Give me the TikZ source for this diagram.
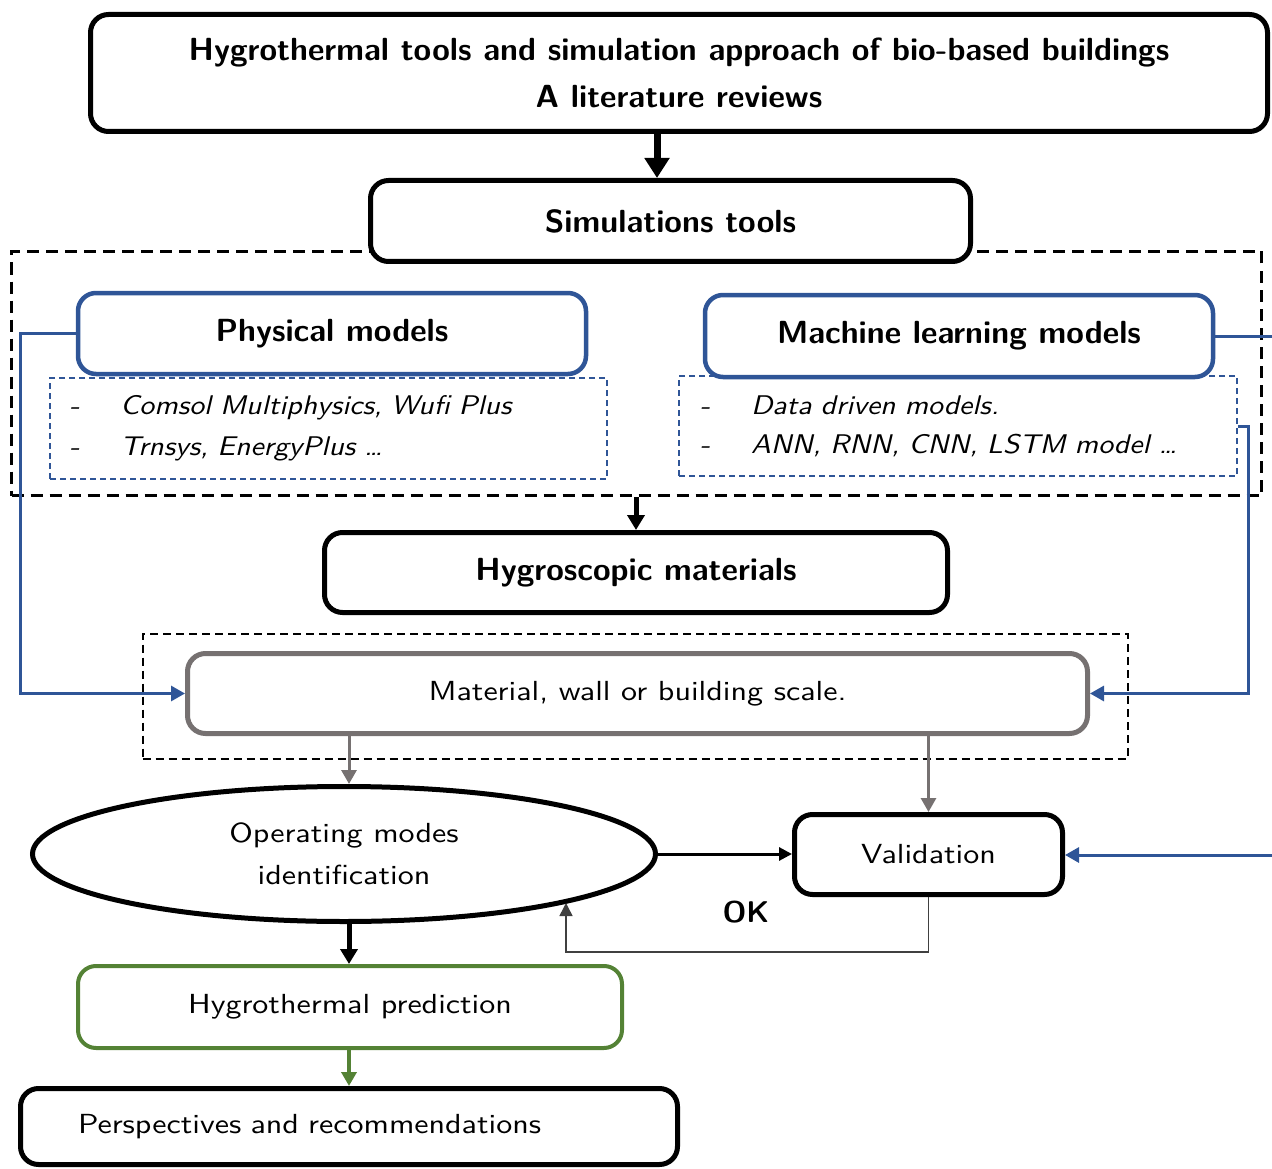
\documentclass[tikz,border=0pt]{standalone}
\usepackage{fontspec}
\usetikzlibrary{shapes.geometric,arrows.meta}
\newfontfamily\regsans[FakeStretch=1.16]{lmsans10-regular.otf}
\newfontfamily\obsans[FakeStretch=1.1]{lmsans10-oblique.otf}
\definecolor{myblue}{HTML}{2F5597}
\definecolor{mygray}{HTML}{767171}
\definecolor{mygreen}{HTML}{548235}
\definecolor{okgray}{HTML}{404040}
\tikzset{
  bx/.style={draw, line width=5pt, rounded corners=18pt, fill=white, align=center, inner sep=0pt,
     font=\sffamily\bfseries\fontsize{32}{47}\selectfont},
  bluebox/.style={bx, draw=myblue, line width=4.5pt},
  itembox/.style={draw=myblue, dashed, line width=1.5pt, dash pattern=on 6pt off 4pt, inner sep=0pt, align=left,
     font=\obsans\fontsize{27}{41}\selectfont},
  regbox/.style={draw, line width=5pt, rounded corners=18pt, fill=white, align=center, inner sep=0pt,
     font=\regsans\fontsize{27.6}{42}\selectfont},
  frame/.style={draw, line width=3pt, dash pattern=on 12pt off 7pt, inner sep=0pt},
  thinframe/.style={draw, line width=2pt, dash pattern=on 8pt off 5pt, inner sep=0pt},
  bigarrow/.style={line width=7pt, -{Triangle[width=24pt,length=20pt]}},
  midarrow/.style={line width=5pt, -{Triangle[width=17pt,length=15pt]}},
  grayarrow/.style={draw=mygray, line width=3pt, -{Triangle[width=15pt,length=14pt]}},
  bluearrow/.style={draw=myblue, line width=3pt, -{Triangle[width=15pt,length=14pt]}},
  blueline/.style={draw=myblue, line width=3pt},
  blackarrow/.style={line width=3pt, -{Triangle[width=13pt,length=13pt]}},
  okarrow/.style={draw=okgray, line width=1.5pt, -{Triangle[width=13pt,length=13pt]}},
  greenarrow/.style={draw=mygreen, line width=4pt, -{Triangle[width=15pt,length=14pt]}}
}
\newcommand{\itm}[1]{\makebox[51pt][l]{-}#1}
\begin{document}
\begin{tikzpicture}[x=1pt,y=-1pt]
\useasboundingbox (0,0) rectangle (1272,1169);

% frames
\node[frame, minimum width=1250pt, minimum height=244pt] (simframe) at (636.5,373.5) {};
\node[thinframe, minimum width=985pt, minimum height=125pt] (matframe) at (635,696) {};

% boxes
\node[bx, minimum width=1177pt, minimum height=117pt] (title) at (679,73)
  {Hygrothermal tools and simulation approach of bio-based buildings\\A literature reviews};
\node[bx, minimum width=600pt, minimum height=81pt] (sim) at (670.5,221) {Simulations tools};
\node[bluebox, minimum width=508pt, minimum height=81pt] (phys) at (332,333.5) {Physical models};
\node[bluebox, minimum width=508pt, minimum height=82pt] (ml) at (959,336) {Machine learning models};
\node[itembox, minimum width=557pt, minimum height=101pt, text width=532pt] (physdash) at (328.5,428.5)
  {\hspace*{7pt}\itm{Comsol Multiphysics, Wufi Plus}\\\hspace*{7pt}\itm{Trnsys, EnergyPlus \dots}};
\node[itembox, minimum width=558pt, minimum height=100pt, text width=532pt, font=\obsans\fontsize{27}{39}\selectfont] (mldash) at (958,426)
  {\hspace*{8pt}\itm{Data driven models.}\\\hspace*{8pt}\itm{ANN, RNN, CNN, LSTM model \dots}};
\node[bx, minimum width=623pt, minimum height=80pt] (hygro) at (636,572.5) {Hygroscopic materials};
\node[regbox, draw=mygray, minimum width=900pt, minimum height=80pt] (mat) at (637.5,693.5) {Material, wall or building scale.};
\node[ellipse, draw, line width=5pt, fill=white, inner sep=0pt, align=center, minimum width=623pt, minimum height=135pt,
  font=\regsans\fontsize{27.6}{42}\selectfont] (ell) at (344,854) {Operating modes\\identification};
\node[regbox, minimum width=268pt, minimum height=80pt] (val) at (928.5,854.5) {Validation};
\node[regbox, draw=mygreen, line width=4pt, minimum width=544pt, minimum height=82pt] (pred) at (350,1007) {Hygrothermal prediction};
\node[regbox, minimum width=657pt, minimum height=76pt, text width=542pt, align=left] (persp) at (349,1126.5) {Perspectives and recommendations};
\node[font=\sffamily\bfseries\fontsize{30}{34}\selectfont, inner sep=0pt] (ok) at (746,912) {OK};

% helper coordinates
\coordinate (a1) at (657,0);
\coordinate (ga) at (349,0);
\coordinate (lx) at (20,0);
\coordinate (rx) at (1248,0);
\coordinate (edge) at (1272,0);
\coordinate (redge2) at (1272,855);
\coordinate (okc) at (566,952);
\coordinate (okend) at (566,903);

% connectors
\draw[bigarrow] (title.south -| a1) -- (sim.north -| a1);
\draw[midarrow] (simframe.south -| hygro.north) -- (hygro.north);
\draw[grayarrow] (mat.south -| ga) -- (ell.north -| ga);
\draw[grayarrow] (mat.south -| val.north) -- (val.north);
\draw[blackarrow] (ell.east) -- (ell.east -| val.west);
\draw[bluearrow] (redge2) -- (redge2 -| val.east);
\draw[okarrow] (val.south) |- (okc) -- (okend);
\draw[midarrow] (ell.south -| ga) -- (pred.north -| ga);
\draw[greenarrow] (pred.south -| ga) -- (persp.north -| ga);

\draw[bluearrow] (phys.west) -- (phys.west -| lx) |- (mat.west);
\draw[bluearrow] (mldash.east) -- (mldash.east -| rx) |- (mat.east);
\draw[blueline] (ml.east) -- (ml.east -| edge);
\end{tikzpicture}
\end{document}
